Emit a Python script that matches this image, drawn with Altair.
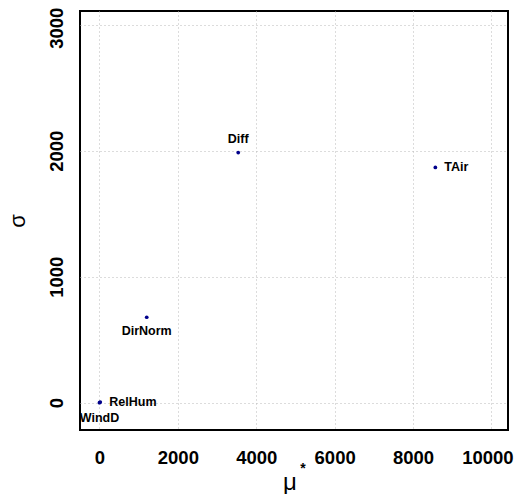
import altair as alt
import pandas as pd

names = ["Diff", "TAir", "DirNorm", "RelHum", "WindD"]
mu_star = [3540, 8570, 1205, 20, 0]
sigma = [1985, 1867, 678, 5, 0]

x_ticks = [0, 2000, 4000, 6000, 8000, 10000]
y_ticks = [0, 1000, 2000, 3000]

df = pd.DataFrame({"name": names, "mu": mu_star, "sigma": sigma})

# label placement (style, kept apart from the data)
placement = {
    "Diff": dict(align="center", dx=0, dy=-14),
    "TAir": dict(align="left", dx=9, dy=0),
    "DirNorm": dict(align="center", dx=0, dy=14),
    "RelHum": dict(align="left", dx=9, dy=0),
    "WindD": dict(align="center", dx=0, dy=15),
}

FONT = "Liberation Sans"
xs = alt.Scale(domain=[-497, 10423], nice=False, zero=False)
ys = alt.Scale(domain=[-217, 3109], nice=False, zero=False)

x_axis = alt.Axis(values=x_ticks, format="d", title=None, tickSize=0, domain=False,
                  labelFont=FONT, labelFontWeight="bold", labelFontSize=18.5,
                  labelColor="black", labelPadding=18,
                  labelOffset={"condition": {"test": "datum.value == 10000", "value": -4}, "value": 0},
                  grid=True, gridColor="#b8b8b8", gridDash=[1, 3], gridWidth=1)
y_axis = alt.Axis(values=y_ticks, format="d", title=None, tickSize=0, domain=False,
                  labelFont=FONT, labelFontWeight="bold", labelFontSize=18.5,
                  labelColor="black", labelPadding=14, labelAngle=-90,
                  labelOffset={"condition": {"test": "datum.value == 3000", "value": 3}, "value": 0},
                  grid=True, gridColor="#b8b8b8", gridDash=[1, 3], gridWidth=1)

base = alt.Chart(df)
points = base.mark_circle(size=14, color="#00008B", opacity=1).encode(
    x=alt.X("mu:Q", scale=xs, axis=x_axis),
    y=alt.Y("sigma:Q", scale=ys, axis=y_axis),
)

layers = [points]
for n in names:
    p = placement[n]
    layers.append(
        base.transform_filter(alt.datum.name == n).mark_text(
            font=FONT, fontWeight="bold", fontSize=12.5, color="black",
            align=p["align"], baseline="middle", dx=p["dx"], dy=p["dy"], clip=True
        ).encode(x=alt.X("mu:Q", scale=xs), y=alt.Y("sigma:Q", scale=ys), text="name:N")
    )

title_df = pd.DataFrame({"t": ["σ"]})
sig = alt.Chart(title_df).mark_text(font=FONT, fontSize=22, angle=270, color="black",
                                     align="center", baseline="middle").encode(
    x=alt.value(-62), y=alt.value(210), text="t:N")
mu_df = pd.DataFrame({"t": ["μ"]})
mu = alt.Chart(mu_df).mark_text(font=FONT, fontSize=24, color="black",
                                 align="center", baseline="middle").encode(
    x=alt.value(210), y=alt.value(472), text="t:N")
star_df = pd.DataFrame({"t": ["*"]})
star = alt.Chart(star_df).mark_text(font=FONT, fontSize=14, fontWeight="bold", color="black",
                                     align="center", baseline="middle").encode(
    x=alt.value(223), y=alt.value(458), text="t:N")

chart = alt.layer(*layers, sig, mu, star).properties(
    width=428, height=419,
    autosize=alt.AutoSizeParams(type="none"),
    padding={"left": 72, "top": 3, "right": 7, "bottom": 64},
    background="white",
).configure_view(stroke="black", strokeWidth=2)

chart.save("out.html", embed_options={"renderer": "svg", "actions": False})
